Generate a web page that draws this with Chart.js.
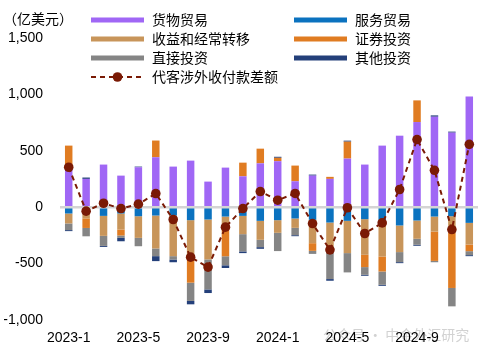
<!DOCTYPE html>
<html><head><meta charset="utf-8">
<script src="https://cdn.jsdelivr.net/npm/chart.js@4.4.1/dist/chart.umd.min.js"></script>
<style>html,body{margin:0;padding:0;background:#fff;}#wrap{position:relative;width:485px;height:353px;}</style>
</head><body><div id="wrap"><canvas id="c" width="485" height="353"></canvas></div>
<script>
const months = ['2023-1','2023-2','2023-3','2023-4','2023-5','2023-6','2023-7','2023-8','2023-9','2023-10','2023-11','2023-12',
                '2024-1','2024-2','2024-3','2024-4','2024-5','2024-6','2024-7','2024-8','2024-9','2024-10','2024-11','2024-12'];
const goods      = [363, 251, 378, 280, 354, 443, 360, 413, 227, 351, 274, 389, 408, 230, 280, 251, 431, 378, 546, 634, 755, 802, 661, 982];
const services   = [-56, -59, -77, -56, -80, -74, -74, -115, -109, -83, -77, -121, -115, -100, -112, -136, -121, -106, -112, -162, -118, -83, -80, -139];
const income     = [-88, -40, -177, -142, -192, -292, -360, -333, -354, -80, -162, -168, -112, -83, -207, -227, -286, -316, -325, -236, -162, -133, -148, -192];
const securities = [183, -85, 0, -53, 0, 148, 0, -221, 0, -272, 121, 130, 30, 139, -68, 18, 150, -109, -133, 0, 192, -260, -488, -59];
const direct     = [-59, -74, -89, -21, -74, -68, -30, -162, -266, -80, -153, -65, -162, -65, -27, -274, -171, -68, -118, -89, -53, -12, -163, -35];
const other      = [-9, 12, -9, -30, 6, -44, -24, -30, -32, -24, -15, -15, 9, -9, 9, -15, 9, -9, -9, -9, -9, 12, 9, -9];
const net        = [354, -35, 35, -12, 27, 121, -109, -443, -531, -177, -12, 139, 62, 122, -145, -378, -5, -233, -139, 157, 600, 327, -198, 557];
const yTicks     = [-1000, -500, 0, 500, 1000, 1500];

const seriesNames = ['货物贸易','服务贸易','收益和经常转移','证券投资','直接投资','其他投资','代客涉外收付款差额'];
const seriesColors = ['#A067F5','#0B72BF','#C8955A','#E07C22','#858585','#24407A','#7A1A05'];

const CJK = '"Noto Sans CJK SC", "Liberation Sans", sans-serif';
const LAT = '"Liberation Sans", "Noto Sans CJK SC", sans-serif';

const barSets = [goods, services, income, securities, direct, other].map((d, i) => ({
  type: 'bar', label: seriesNames[i], data: d, backgroundColor: seriesColors[i],
  borderWidth: 0, stack: 'a', order: 1, categoryPercentage: 1, barPercentage: 0.43
}));

const overlay = {
  id: 'overlay',
  beforeDraw(chart) {
    const ctx = chart.ctx;
    ctx.save();
    ctx.fillStyle = '#d2d2d2';
    ctx.font = '14px ' + CJK;
    ctx.textBaseline = 'middle';
    ctx.textAlign = 'left';
    ctx.fillText('公众号 · 中金外汇研究', 323, 335);
    ctx.restore();
  },
  beforeDatasetDraw(chart, args) {
    if (args.index !== 6) return;
    const ctx = chart.ctx, y = chart.scales.y.getPixelForValue(0), a = chart.chartArea;
    ctx.save();
    ctx.strokeStyle = '#D4D4D4';
    ctx.lineWidth = 2.5;
    ctx.beginPath(); ctx.moveTo(a.left, y); ctx.lineTo(a.right, y); ctx.stroke();
    ctx.restore();
  },
  afterDraw(chart) {
    const ctx = chart.ctx;
    ctx.save();
    ctx.fillStyle = '#000';
    ctx.textBaseline = 'middle';
    ctx.textAlign = 'left';
    ctx.font = '14px ' + CJK;
    ctx.fillText('（亿美元）', 3, 19);
    const colX = [91, 294], rowY = [20, 39, 58, 77];
    for (let i = 0; i < 6; i++) {
      const cx = colX[i % 2], cy = rowY[Math.floor(i / 2)];
      ctx.fillStyle = seriesColors[i];
      ctx.fillRect(cx, cy - 2.5, 53, 5);
      ctx.fillStyle = '#000';
      ctx.fillText(seriesNames[i], cx + 61, cy);
    }
    const ly = rowY[3];
    ctx.strokeStyle = seriesColors[6];
    ctx.lineWidth = 2;
    ctx.setLineDash([5, 4]);
    ctx.beginPath(); ctx.moveTo(91, ly); ctx.lineTo(144, ly); ctx.stroke();
    ctx.setLineDash([]);
    ctx.fillStyle = seriesColors[6];
    ctx.beginPath(); ctx.arc(117.5, ly, 4.8, 0, Math.PI * 2); ctx.fill();
    ctx.fillStyle = '#000';
    ctx.fillText(seriesNames[6], 152, ly);
    ctx.restore();
  }
};

new Chart(document.getElementById('c'), {
  data: {
    labels: months,
    datasets: [...barSets, {
      type: 'line', label: seriesNames[6], data: net, stack: 'net', order: 0,
      borderColor: seriesColors[6], borderWidth: 2, borderDash: [5, 4],
      pointRadius: 4.8, pointBackgroundColor: seriesColors[6], pointBorderWidth: 0,
      pointHoverRadius: 4.8, tension: 0, fill: false
    }]
  },
  options: {
    responsive: false, animation: false, devicePixelRatio: 1,
    layout: { padding: { top: 38, left: 4, right: 7, bottom: 7 } },
    plugins: { legend: { display: false }, tooltip: { enabled: false } },
    scales: {
      x: {
        stacked: true, offset: true,
        afterFit: (s) => { s.height = 26; },
        grid: { display: false }, border: { display: false },
        ticks: {
          autoSkip: false, maxRotation: 0, minRotation: 0, padding: 2, color: '#000',
          font: { family: LAT, size: 14 },
          callback: (v, i) => (i % 4 === 0 ? months[i] : '')
        }
      },
      y: {
        stacked: true, min: yTicks[0], max: yTicks[yTicks.length - 1],
        afterBuildTicks: (s) => { s.ticks = yTicks.map(v => ({ value: v })); },
        afterFit: (s) => { s.width = 56; },
        grid: { display: false, drawTicks: false }, border: { display: false },
        ticks: {
          padding: 17, color: '#000', font: { family: LAT, size: 14 },
          callback: (v) => v.toLocaleString('en-US')
        }
      }
    }
  },
  plugins: [overlay]
});
</script>
</body></html>
